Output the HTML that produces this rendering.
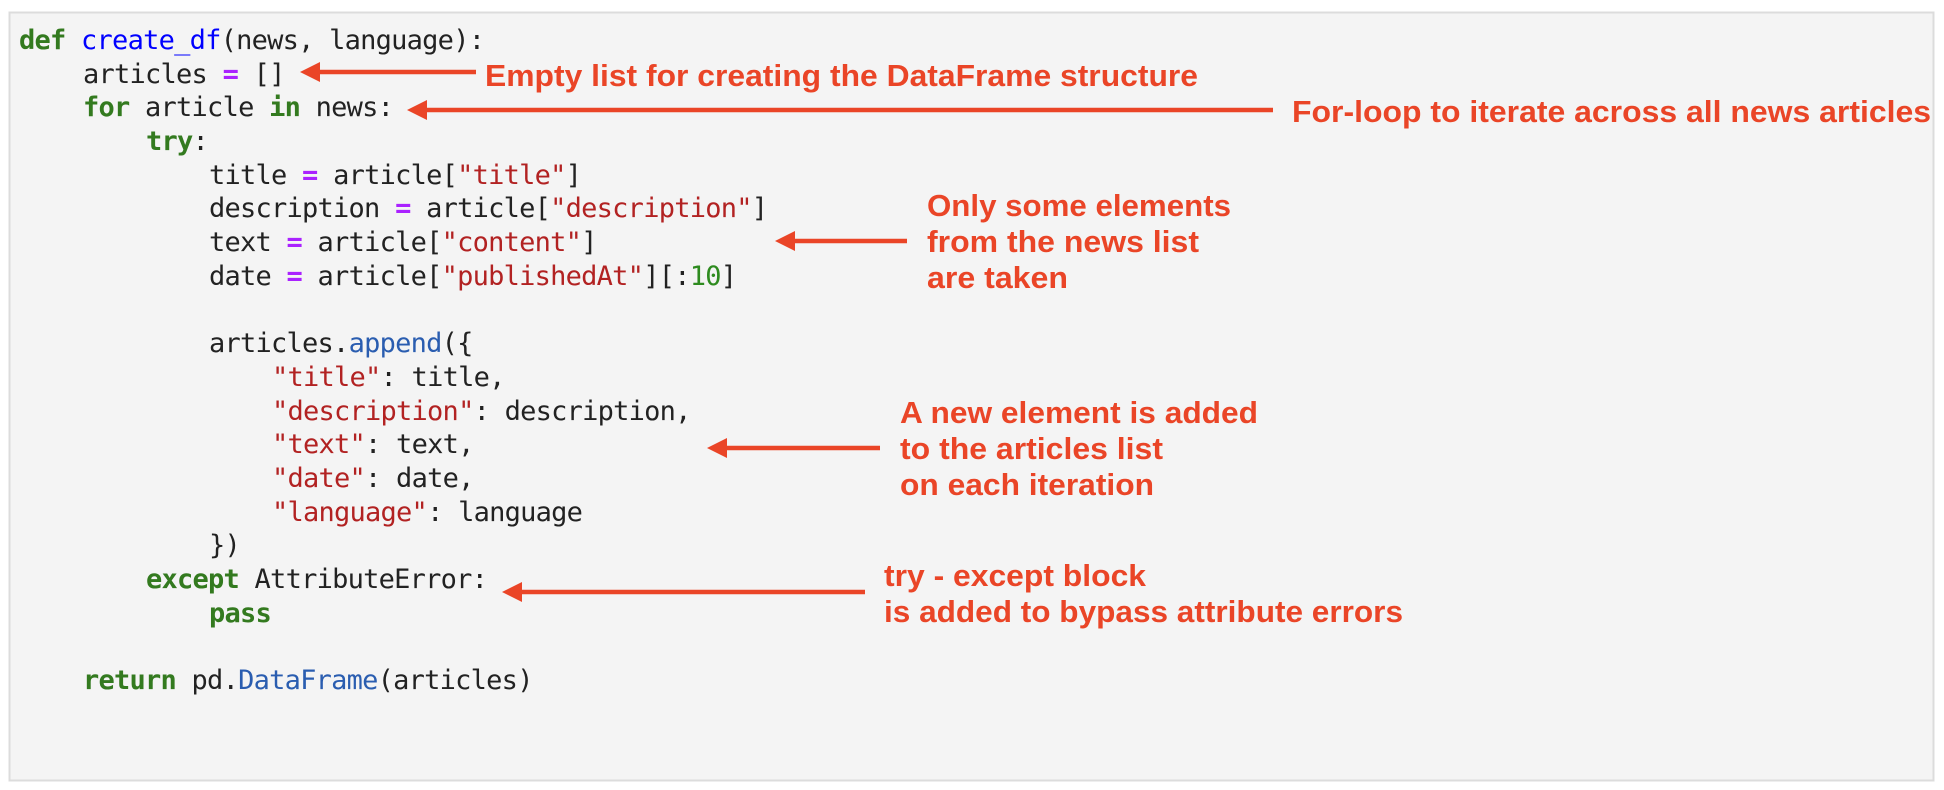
<!DOCTYPE html>
<html><head><meta charset="utf-8"><style>
html,body{margin:0;padding:0;background:#fff;}
svg{display:block;}
.c{font-family:"DejaVu Sans Mono","Liberation Mono",monospace;font-size:27px;letter-spacing:-0.75px;fill:#222;white-space:pre;}
.k{fill:#337a1f;font-weight:bold;}
.f{fill:#0000ff;}
.s{fill:#b22222;}
.o{fill:#aa22ff;font-weight:bold;}
.m{fill:#2a5db0;}
.n{fill:#2e8b1f;}
.a{font-family:"Liberation Sans",sans-serif;font-weight:bold;font-size:31px;fill:#ea4527;}
</style></head><body>
<svg width="1944" height="790" viewBox="0 0 1944 790" xmlns="http://www.w3.org/2000/svg">
<rect x="0" y="0" width="1944" height="790" fill="#fff"/>
<rect x="9.5" y="12.5" width="1924" height="768" fill="#f4f4f4" stroke="#dcdcdc" stroke-width="2"/>
<g class="c">
<text x="19" y="49"><tspan class="k">def</tspan> <tspan class="f">create_df</tspan>(news, language):</text>
<text x="83" y="83">articles <tspan class="o">=</tspan> []</text>
<text x="83" y="116"><tspan class="k">for</tspan> article <tspan class="k">in</tspan> news:</text>
<text x="146" y="150"><tspan class="k">try</tspan>:</text>
<text x="209" y="184">title <tspan class="o">=</tspan> article[<tspan class="s">"title"</tspan>]</text>
<text x="209" y="217">description <tspan class="o">=</tspan> article[<tspan class="s">"description"</tspan>]</text>
<text x="209" y="251">text <tspan class="o">=</tspan> article[<tspan class="s">"content"</tspan>]</text>
<text x="209" y="285">date <tspan class="o">=</tspan> article[<tspan class="s">"publishedAt"</tspan>][:<tspan class="n">10</tspan>]</text>
<text x="209" y="352">articles.<tspan class="m">append</tspan>({</text>
<text x="272" y="386"><tspan class="s">"title"</tspan>: title,</text>
<text x="272" y="420"><tspan class="s">"description"</tspan>: description,</text>
<text x="272" y="453"><tspan class="s">"text"</tspan>: text,</text>
<text x="272" y="487"><tspan class="s">"date"</tspan>: date,</text>
<text x="272" y="521"><tspan class="s">"language"</tspan>: language</text>
<text x="209" y="554">})</text>
<text x="146" y="588"><tspan class="k">except</tspan> AttributeError:</text>
<text x="209" y="622"><tspan class="k">pass</tspan></text>
<text x="83" y="689"><tspan class="k">return</tspan> pd.<tspan class="m">DataFrame</tspan>(articles)</text>
</g>
<g stroke="#ea4527" stroke-width="4.5" fill="none">
<line x1="315" y1="72" x2="476" y2="72"/>
<line x1="424" y1="110" x2="1273" y2="110"/>
<line x1="792" y1="241" x2="907" y2="241"/>
<line x1="724" y1="448" x2="880" y2="448"/>
<line x1="519" y1="592" x2="865" y2="592"/>
</g>
<g fill="#ea4527">
<polygon points="300,72 320,62 320,82"/>
<polygon points="407,110 427,100 427,120"/>
<polygon points="775,241 795,231 795,251"/>
<polygon points="707,448 727,438 727,458"/>
<polygon points="502,592 522,582 522,602"/>
</g>
<g class="a">
<text x="485" y="86" textLength="713" lengthAdjust="spacingAndGlyphs">Empty list for creating the DataFrame structure</text>
<text x="1292" y="122" textLength="639" lengthAdjust="spacingAndGlyphs">For-loop to iterate across all news articles</text>
<text x="927" y="216" textLength="304" lengthAdjust="spacingAndGlyphs">Only some elements</text>
<text x="927" y="252" textLength="272" lengthAdjust="spacingAndGlyphs">from the news list</text>
<text x="927" y="288" textLength="141" lengthAdjust="spacingAndGlyphs">are taken</text>
<text x="900" y="423" textLength="358" lengthAdjust="spacingAndGlyphs">A new element is added</text>
<text x="900" y="459" textLength="263" lengthAdjust="spacingAndGlyphs">to the articles list</text>
<text x="900" y="495" textLength="254" lengthAdjust="spacingAndGlyphs">on each iteration</text>
<text x="884" y="586" textLength="262" lengthAdjust="spacingAndGlyphs">try - except block</text>
<text x="884" y="622" textLength="519" lengthAdjust="spacingAndGlyphs">is added to bypass attribute errors</text>
</g>
</svg>
</body></html>
